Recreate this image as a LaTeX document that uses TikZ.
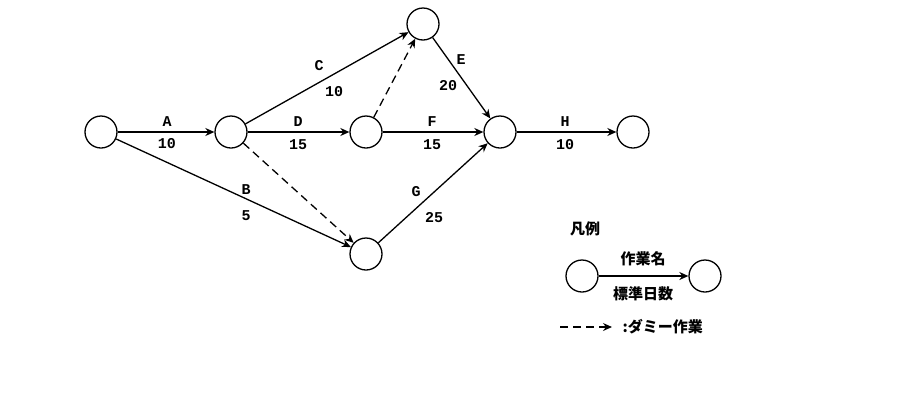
\documentclass[tikz,border=0pt]{standalone}
\usepackage{fontspec}
\setmonofont{Liberation Mono}
\newfontfamily\jp{Noto Sans CJK JP}
\usetikzlibrary{arrows.meta}
\begin{document}
\begin{tikzpicture}[x=1pt,y=-1pt,
  ev/.style={circle,draw,line width=1.3pt,minimum size=32pt,inner sep=0pt},
  act/.style={line width=1.3pt,-{Stealth[length=9pt,width=8pt]}},
  dum/.style={act,dash pattern=on 8pt off 5pt},
  lb/.style={font=\ttfamily\bfseries\fontsize{15}{15}\selectfont,inner sep=0pt},
  jl/.style={font=\jp\bfseries\fontsize{15}{15}\selectfont,inner sep=0pt}]
\useasboundingbox (0,0) rectangle (900,400);
\node[ev] (n1) at (101,132) {};
\node[ev] (n2) at (231,132) {};
\node[ev] (n3) at (366,132) {};
\node[ev] (n4) at (423,24) {};
\node[ev] (n5) at (500,132) {};
\node[ev] (n6) at (366,254) {};
\node[ev] (n7) at (633,132) {};
\draw[act] (n1) -- (n2);
\draw[act] (n2) -- (n3);
\draw[act] (n3) -- (n5);
\draw[act] (n5) -- (n7);
\draw[act] (n2) -- (n4);
\draw[act] (n4) -- (n5);
\draw[act] (n1) -- (n6);
\draw[act] (n6) -- (n5);
\draw[dum] (n3) -- (n4);
\draw[dum] (n2) -- (n6);
\node[lb] (lA) at (167,122) {A}; \node[lb] (vA) at (167,144) {10};
\node[lb] (lD) at (298,122) {D}; \node[lb] (vD) at (298,145) {15};
\node[lb] (lF) at (432,122) {F}; \node[lb] (vF) at (432,145) {15};
\node[lb] (lH) at (565,122) {H}; \node[lb] (vH) at (565,145) {10};
\node[lb] (lC) at (319,66) {C}; \node[lb] (vC) at (334,92) {10};
\node[lb] (lE) at (461,60) {E}; \node[lb] (vE) at (448,86) {20};
\node[lb] (lB) at (246,190) {B}; \node[lb] (vB) at (246,216) {5};
\node[lb] (lG) at (416,192) {G}; \node[lb] (vG) at (434,218) {25};
% legend
\node[jl] (leg) at (585,229) {凡例};
\node[ev] (m1) at (582,276) {};
\node[ev] (m2) at (705,276) {};
\draw[act] (m1) -- (m2);
\node[jl] (ln) at (643,259) {作業名};
\node[jl] (ld) at (643,294) {標準日数};
\coordinate (d1) at (560,327);
\coordinate (d2) at (612,327);
\draw[dum] (d1) -- (d2);
\node[jl,anchor=west] (dt) at (620,327) {\,:ダミー作業};
\end{tikzpicture}
\end{document}
